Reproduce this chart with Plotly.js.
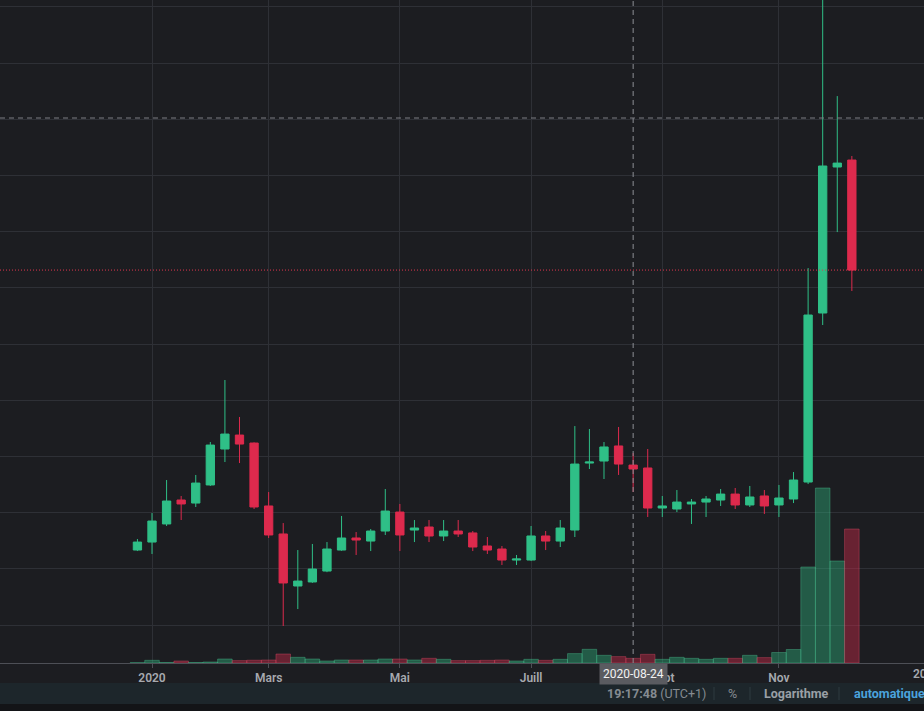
<!DOCTYPE html>
<html><head><meta charset="utf-8">
<script src="https://cdn.plot.ly/plotly-3.0.1.min.js"></script>
<style>html,body{margin:0;padding:0;background:#1c1d21;overflow:hidden}#chart{width:924px;height:711px}</style>
</head><body><div id="chart"></div>
<script>
const weeks = ['2019-12-30','2020-01-06','2020-01-13','2020-01-20','2020-01-27','2020-02-03','2020-02-10','2020-02-17','2020-02-24','2020-03-02',
 '2020-03-09','2020-03-16','2020-03-23','2020-03-30','2020-04-06','2020-04-13','2020-04-20','2020-04-27','2020-05-04','2020-05-11',
 '2020-05-18','2020-05-25','2020-06-01','2020-06-08','2020-06-15','2020-06-22','2020-06-29','2020-07-06','2020-07-13','2020-07-20',
 '2020-07-27','2020-08-03','2020-08-10','2020-08-17','2020-08-24','2020-08-31','2020-09-07','2020-09-14','2020-09-21','2020-09-28',
 '2020-10-05','2020-10-12','2020-10-19','2020-10-26','2020-11-02','2020-11-09','2020-11-16','2020-11-23','2020-11-30','2020-12-07'];
const open = [0.1667,0.1738,0.1899,0.2112,0.2085,0.2246,0.2566,0.2690,0.2619,0.2059,
 0.1810,0.1347,0.1383,0.1480,0.1667,0.1774,0.1747,0.1836,0.2005,0.1845,
 0.1872,0.1792,0.1836,0.1819,0.1703,0.1676,0.1578,0.1578,0.1792,0.1747,
 0.1845,0.2441,0.2459,0.2593,0.2423,0.2397,0.2041,0.2032,0.2077,0.2094,
 0.2112,0.2165,0.2068,0.2148,0.2068,0.2121,0.2272,0.3776,0.5075,0.5137];
const high = [0.1765,0.1996,0.2290,0.2148,0.2335,0.2628,0.3180,0.2851,0.2625,0.2183,
 0.1907,0.1667,0.1721,0.1738,0.1970,0.1827,0.1854,0.2210,0.2077,0.1934,
 0.1934,0.1934,0.1934,0.1836,0.1783,0.1703,0.1623,0.1881,0.1836,0.1934,
 0.2770,0.2744,0.2628,0.2762,0.2530,0.2566,0.2148,0.2201,0.2121,0.2148,
 0.2210,0.2219,0.2237,0.2201,0.2246,0.2361,0.4176,0.7800,0.5706,0.5173];
const low = [0.1658,0.1632,0.1881,0.1934,0.2050,0.2237,0.2450,0.2441,0.2032,0.1774,
 0.0991,0.1142,0.1375,0.1470,0.1660,0.1623,0.1658,0.1801,0.1658,0.1738,
 0.1738,0.1747,0.1783,0.1658,0.1632,0.1534,0.1534,0.1570,0.1667,0.1694,
 0.1783,0.2388,0.2299,0.2335,0.2183,0.1961,0.1961,0.2005,0.1899,0.1961,
 0.2059,0.2032,0.2050,0.1988,0.1961,0.2085,0.2254,0.3669,0.4496,0.3972];
const close = [0.1738,0.1925,0.2103,0.2077,0.2263,0.2601,0.2699,0.2610,0.2050,0.1801,
 0.1374,0.1391,0.1498,0.1676,0.1774,0.1756,0.1836,0.2014,0.1801,0.1863,
 0.1792,0.1836,0.1810,0.1694,0.1667,0.1578,0.1587,0.1792,0.1747,0.1863,
 0.2432,0.2450,0.2584,0.2432,0.2388,0.2041,0.2059,0.2094,0.2094,0.2121,
 0.2165,0.2068,0.2139,0.2059,0.2130,0.2290,0.3758,0.5084,0.5110,0.4158];
const volume = [3,27,5,20,5,10,40,24,28,30,
 90,57,40,20,30,30,30,40,40,30,
 47,37,24,24,27,30,20,37,27,37,
 94,137,77,64,47,87,37,57,47,37,
 47,47,77,54,105,135,960,1750,1020,1340];
const tickDates = ['2020-01-06','2020-03-02','2020-05-04','2020-07-06','2020-09-07','2020-11-02'];
const tickLabels = ['2020','Mars','Mai','Juill','Sept','Nov'];
const crosshairDate = '2020-08-24';
const crosshairPrice = 0.5511;

const UP = '#2fbf87', DOWN = '#dd2a4d';
const up = close.map((c,i)=> c >= open[i]);
const volFill = up.map(u => u ? 'rgba(47,191,135,0.38)' : 'rgba(221,42,77,0.40)');
const volLine = up.map(u => u ? 'rgba(80,205,155,0.35)' : 'rgba(235,80,110,0.35)');
const WEEK = 7*86400000;

const H = 663;
const py = px => -(px - H)/H;
const px2 = x => x/924;
const tickFont = {family:'Roboto, "Noto Sans", sans-serif', size:12, color:'#a6a9af', weight:600};
const statusFont = {family:'Roboto, "Noto Sans", sans-serif', size:12.5, color:'#858b91'};

const data = [
 {type:'bar', x:weeks, y:volume, width:WEEK, yaxis:'y2', marker:{color:volFill, line:{color:volLine, width:1}}, hoverinfo:'skip'},
 {type:'candlestick', x:weeks, open:open, high:high, low:low, close:close, xaxis:'x', yaxis:'y',
  increasing:{line:{color:UP, width:1}, fillcolor:UP},
  decreasing:{line:{color:DOWN, width:1}, fillcolor:DOWN},
  whiskerwidth:0, hoverinfo:'skip'}
];

const layout = {
 width:924, height:711, margin:{l:0, r:0, t:0, b:48},
 paper_bgcolor:'#1c1d21', plot_bgcolor:'#1c1d21',
 showlegend:false, dragmode:false, hovermode:false,
 boxgap:0.43, boxgroupgap:0, bargap:0,
 xaxis:{type:'date', range:['2019-10-25 00:29','2021-01-10 15:22'],
  tickmode:'array', tickvals:tickDates, ticktext:tickLabels,
  showgrid:true, gridcolor:'#2e3036', gridwidth:1,
  showline:true, linecolor:'#4d4f56', linewidth:1,
  ticks:'outside', ticklen:4, tickcolor:'#4d4f56',
  tickfont:tickFont, rangeslider:{visible:false}, zeroline:false, fixedrange:true},
 yaxis:{range:[0.06619,0.6561], tick0:0, dtick:0.05, showgrid:true, gridcolor:'#2e3036', gridwidth:1,
  showticklabels:false, zeroline:false, ticks:'', fixedrange:true},
 yaxis2:{overlaying:'y', range:[0,6630], showgrid:false, showticklabels:false, zeroline:false, ticks:'', fixedrange:true},
 shapes:[
  {type:'rect', xref:'paper', yref:'paper', x0:0, x1:1, y0:py(683), y1:py(704), fillcolor:'#1d262b', line:{width:0}, layer:'above'},
  {type:'rect', xref:'paper', yref:'paper', x0:0, x1:1, y0:py(704), y1:py(711), fillcolor:'#131417', line:{width:0}, layer:'above'},
  {type:'line', xref:'paper', yref:'paper', x0:px2(714), x1:px2(714), y0:py(687), y1:py(700), line:{color:'#2f3b41', width:1}, layer:'above'},
  {type:'line', xref:'paper', yref:'paper', x0:px2(750), x1:px2(750), y0:py(687), y1:py(700), line:{color:'#2f3b41', width:1}, layer:'above'},
  {type:'line', xref:'paper', yref:'paper', x0:px2(839), x1:px2(839), y0:py(687), y1:py(700), line:{color:'#2f3b41', width:1}, layer:'above'},
  {type:'line', xref:'x', yref:'paper', x0:crosshairDate, x1:crosshairDate, y0:0, y1:1, line:{color:'#8d9096', width:1, dash:'5px,4px'}, layer:'above'},
  {type:'line', xref:'paper', yref:'y', x0:0, x1:1, y0:crosshairPrice, y1:crosshairPrice, line:{color:'#7c7f85', width:1, dash:'5px,4px'}, layer:'above'},
  {type:'line', xref:'paper', yref:'y', x0:0, x1:1, y0:close[close.length-1], y1:close[close.length-1], line:{color:'#e0354f', width:1, dash:'1px,2px'}, layer:'above'}
 ],
 annotations:[
  {xref:'paper', yref:'paper', x:px2(911), y:py(674), xanchor:'left', yanchor:'middle', text:'2021', showarrow:false, font:tickFont},
  {xref:'x', yref:'paper', x:crosshairDate, y:py(673.5), xanchor:'center', yanchor:'middle', text:'2020-08-24', showarrow:false,
   bgcolor:'#5a5b60', borderpad:3, font:{family:'Roboto, "Noto Sans", sans-serif', size:12, color:'#f2f2f2'}},
  {xref:'paper', yref:'paper', x:px2(605), y:py(693.5), xanchor:'left', yanchor:'middle', text:'<b>19:17:48</b> (UTC+1)', showarrow:false, font:statusFont},
  {xref:'paper', yref:'paper', x:px2(732), y:py(693.5), xanchor:'center', yanchor:'middle', text:'%', showarrow:false, font:statusFont},
  {xref:'paper', yref:'paper', x:px2(762), y:py(693.5), xanchor:'left', yanchor:'middle', text:'<b>Logarithme</b>', showarrow:false, font:{family:statusFont.family, size:12.5, color:'#9aa0a6'}},
  {xref:'paper', yref:'paper', x:px2(852), y:py(693.5), xanchor:'left', yanchor:'middle', text:'<b>automatique</b>', showarrow:false, font:{family:statusFont.family, size:12.5, color:'#4ba3dd'}}
 ]
};

Plotly.newPlot('chart', data, layout, {displayModeBar:false, staticPlot:true});
</script>
</body></html>
